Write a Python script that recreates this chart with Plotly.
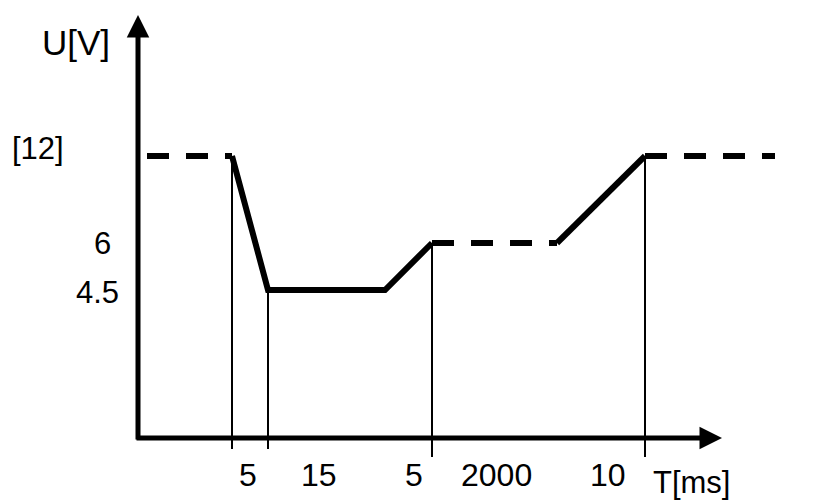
import plotly.graph_objects as go

# schematic breakpoints along T (drawing units, not to scale)
t_break = [94, 130, 247, 294, 419, 507]
# duration of each stretch between breakpoints, ms
seg_ms = ["5", "15", "5", "2000", "10"]
# voltage at each breakpoint
u_break = [12, 4.5, 4.5, 6, 6, 12]
# voltage levels, their labels and the height they are drawn at
u_levels = [12, 6, 4.5]
u_level_labels = ["[12]", "6", "4.5"]
u_height = [282, 195, 148]
# where the steady 12 V dashes start and stop
t_lead_in = 9
t_tail_out = 637
# breakpoints that get a thin marker line down to the T axis
marked = [0, 1, 3, 5]

h = dict(zip(u_levels, u_height))
yb = [h[u] for u in u_break]

fig = go.Figure()

# solid transitions
sx = t_break[0:4] + [None] + t_break[4:6]
sy = yb[0:4] + [None] + yb[4:6]
fig.add_scatter(x=sx, y=sy, mode="lines", line=dict(color="black", width=6))

# dashed steady stretches
for xs, lvl in [([t_lead_in, t_break[0]], 12), ([t_break[3], t_break[4]], 6),
                ([t_break[5], t_tail_out], 12)]:
    fig.add_scatter(x=xs, y=[h[lvl]] * 2, mode="lines",
                    line=dict(color="black", width=6, dash="22px,17px"))

# thin marker lines
vx, vy = [], []
for i, k in enumerate(marked):
    vx += [t_break[k], t_break[k], None]
    vy += [yb[k], -11 if i < 2 else -19, None]
fig.add_scatter(x=vx, y=vy, mode="lines", line=dict(color="black", width=2))

# axes with arrow heads
arrow = dict(showarrow=True, text="", axref="x", ayref="y", arrowhead=2,
             arrowsize=0.9, arrowwidth=5, arrowcolor="black")
fig.add_annotation(x=0, y=423, ax=0, ay=-3, **arrow)
fig.add_annotation(x=584, y=0, ax=-3, ay=0, **arrow)

fam = "Liberation Sans, Arial, sans-serif"
font_num = dict(family=fam, size=32, color="black")

# duration labels under the T axis
nudge = [-2, -8, 5, 2, 7]
for i, lab in enumerate(seg_ms):
    mid = (t_break[i] + t_break[i + 1]) / 2
    fig.add_annotation(x=mid, y=-37, text=lab, showarrow=False, xshift=nudge[i],
                       font=font_num)
fig.add_annotation(x=554, y=-44, text="T[ms]", showarrow=False,
                   font=dict(family=fam, size=31, color="black"))

# voltage labels left of the U axis
lab_x = [-100, -36, -41]
lab_dy = [8, 0, -2]
for lab, lx, hy, dy in zip(u_level_labels, lab_x, u_height, lab_dy):
    fig.add_annotation(x=lx, y=hy + dy, text=lab, showarrow=False,
                       font=dict(font_num, size=31))
fig.add_annotation(x=-62, y=396, text="U[V]", showarrow=False,
                   font=dict(family=fam, size=35, color="black"))

fig.update_layout(
    width=813, height=503,
    margin=dict(l=0, r=0, t=0, b=0),
    paper_bgcolor="white", plot_bgcolor="white",
    showlegend=False,
    xaxis=dict(range=[-138, 675], visible=False, fixedrange=True),
    yaxis=dict(range=[-65, 438], visible=False, fixedrange=True),
)

fig.write_html("out.html", config={"displayModeBar": False},
               post_script="document.body.style.margin='0';document.body.style.overflow='hidden';")
